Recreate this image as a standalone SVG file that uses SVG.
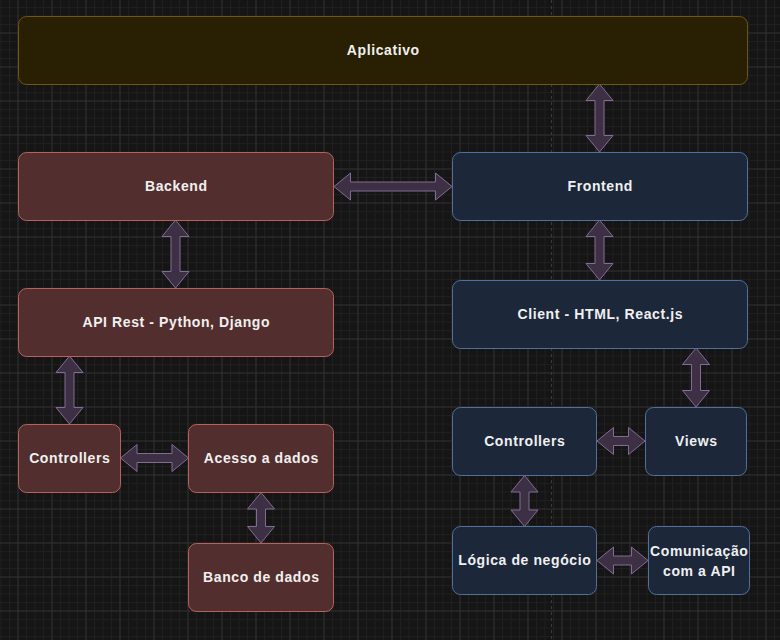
<svg xmlns="http://www.w3.org/2000/svg" width="780" height="640" viewBox="0 0 780 640">
  <defs>
    <!-- fine grid, 8.5 px -->
    <pattern id="gridMinor" patternUnits="userSpaceOnUse" x="17.5" y="32.5" width="8.5" height="8.5">
      <rect x="0" y="0" width="1" height="8.5" fill="#1f1f1f"/>
      <rect x="0" y="0" width="8.5" height="1" fill="#1f1f1f"/>
    </pattern>
    <!-- coarse grid, every 4 fine cells -->
    <pattern id="gridMajor" patternUnits="userSpaceOnUse" x="17.5" y="32.5" width="34" height="34">
      <rect x="0" y="0" width="1" height="34" fill="#2e2e2e"/>
      <rect x="0" y="0" width="34" height="1" fill="#2e2e2e"/>
    </pattern>
    <style>
      .node rect { stroke-width: 1; }
      .app rect { fill: #291f03; stroke: #6f570b; }
      .back rect { fill: #532e2e; stroke: #b8625e; }
      .front rect { fill: #1c273a; stroke: #52709b; }
      .node text {
        font-family: "Liberation Sans", Arial, sans-serif;
        font-weight: bold;
        font-size: 14px;
        letter-spacing: 0.6px;
        fill: #f0f0f0;
        text-anchor: middle;
      }
      .link { fill: #3d3045; stroke: #836c93; stroke-width: 1; stroke-linejoin: miter; }
      .pagebreak { stroke: #3a3a3a; stroke-width: 1; stroke-dasharray: 3 3; fill: none; }
    </style>
  </defs>

  <!-- canvas -->
  <rect x="0" y="0" width="780" height="640" fill="#151515"/>
  <rect x="0" y="0" width="780" height="640" fill="url(#gridMinor)"/>
  <rect x="0" y="0" width="780" height="640" fill="url(#gridMajor)"/>
  <line class="pagebreak" x1="551.5" y1="0" x2="551.5" y2="640"/>

  <!-- connectors: double-headed block arrows -->
  <g id="connectors">
    <!-- Aplicativo <-> Frontend -->
    <path class="link" d="M599.5 84 L613 100.5 L604 100.5 L604 135.5 L613 135.5 L599.5 152 L586 135.5 L595 135.5 L595 100.5 L586 100.5 Z"/>
    <!-- Backend <-> Frontend -->
    <path class="link" d="M334 186.5 L350.5 173 L350.5 182 L435.5 182 L435.5 173 L452 186.5 L435.5 200 L435.5 191 L350.5 191 L350.5 200 Z"/>
    <!-- Backend <-> API Rest -->
    <path class="link" d="M175.5 220 L189 236.5 L180 236.5 L180 271.5 L189 271.5 L175.5 288 L162 271.5 L171 271.5 L171 236.5 L162 236.5 Z"/>
    <!-- API Rest <-> Controllers -->
    <path class="link" d="M69.5 356 L83 372.5 L74 372.5 L74 407.5 L83 407.5 L69.5 424 L56 407.5 L65 407.5 L65 372.5 L56 372.5 Z"/>
    <!-- Controllers <-> Acesso a dados -->
    <path class="link" d="M120.5 458 L137 444.5 L137 453.5 L172 453.5 L172 444.5 L188.5 458 L172 471.5 L172 462.5 L137 462.5 L137 471.5 Z"/>
    <!-- Acesso a dados <-> Banco de dados -->
    <path class="link" d="M261 492.5 L274.5 509 L265.5 509 L265.5 526.5 L274.5 526.5 L261 543 L247.5 526.5 L256.5 526.5 L256.5 509 L247.5 509 Z"/>
    <!-- Frontend <-> Client -->
    <path class="link" d="M599.5 220 L613 236.5 L604 236.5 L604 263.5 L613 263.5 L599.5 280 L586 263.5 L595 263.5 L595 236.5 L586 236.5 Z"/>
    <!-- Client <-> Views -->
    <path class="link" d="M696 348 L709.5 364.5 L700.5 364.5 L700.5 390.5 L709.5 390.5 L696 407 L682.5 390.5 L691.5 390.5 L691.5 364.5 L682.5 364.5 Z"/>
    <!-- Controllers <-> Views -->
    <path class="link" d="M597 441 L613.5 427.5 L613.5 436.5 L628.5 436.5 L628.5 427.5 L645 441 L628.5 454.5 L628.5 445.5 L613.5 445.5 L613.5 454.5 Z"/>
    <!-- Controllers <-> Logica de negocio -->
    <path class="link" d="M524.5 475.5 L538 492 L529 492 L529 510 L538 510 L524.5 526.5 L511 510 L520 510 L520 492 L511 492 Z"/>
    <!-- Logica de negocio <-> Comunicacao com a API -->
    <path class="link" d="M597 560.5 L613.5 547 L613.5 556 L631.5 556 L631.5 547 L648 560.5 L631.5 574 L631.5 565 L613.5 565 L613.5 574 Z"/>
  </g>

  <!-- nodes -->
  <g id="aplicativo" class="node app">
    <rect x="18.5" y="16.5" width="729" height="68" rx="8"/>
    <text x="383.3" y="55">Aplicativo</text>
  </g>

  <g id="backend" class="node back">
    <rect x="18.5" y="152.5" width="315" height="68" rx="8"/>
    <text x="176.3" y="191">Backend</text>
  </g>
  <g id="api-rest" class="node back">
    <rect x="18.5" y="288.5" width="315" height="68" rx="8"/>
    <text x="176.3" y="327">API Rest - Python, Django</text>
  </g>
  <g id="controllers-back" class="node back">
    <rect x="18.5" y="424.5" width="102" height="68" rx="8"/>
    <text x="69.8" y="463">Controllers</text>
  </g>
  <g id="acesso-dados" class="node back">
    <rect x="188.5" y="424.5" width="145" height="68" rx="8"/>
    <text x="261.3" y="463">Acesso a dados</text>
  </g>
  <g id="banco-dados" class="node back">
    <rect x="188.5" y="543.5" width="145" height="68" rx="8"/>
    <text x="261.3" y="582">Banco de dados</text>
  </g>

  <g id="frontend" class="node front">
    <rect x="452.5" y="152.5" width="295" height="68" rx="8"/>
    <text x="600.3" y="191">Frontend</text>
  </g>
  <g id="client" class="node front">
    <rect x="452.5" y="280.5" width="295" height="68" rx="8"/>
    <text x="600.3" y="319">Client - HTML, React.js</text>
  </g>
  <g id="controllers-front" class="node front">
    <rect x="452.5" y="407.5" width="144" height="68" rx="8"/>
    <text x="524.8" y="446">Controllers</text>
  </g>
  <g id="views" class="node front">
    <rect x="645.5" y="407.5" width="101" height="68" rx="8"/>
    <text x="696.3" y="446">Views</text>
  </g>
  <g id="logica-negocio" class="node front">
    <rect x="452.5" y="526.5" width="144" height="68" rx="8"/>
    <text x="524.8" y="565">Lógica de negócio</text>
  </g>
  <g id="comunicacao-api" class="node front">
    <rect x="648.5" y="526.5" width="101" height="68" rx="8"/>
    <text x="699.3" y="556">Comunicação</text>
    <text x="699.3" y="575.5">com a API</text>
  </g>
</svg>
